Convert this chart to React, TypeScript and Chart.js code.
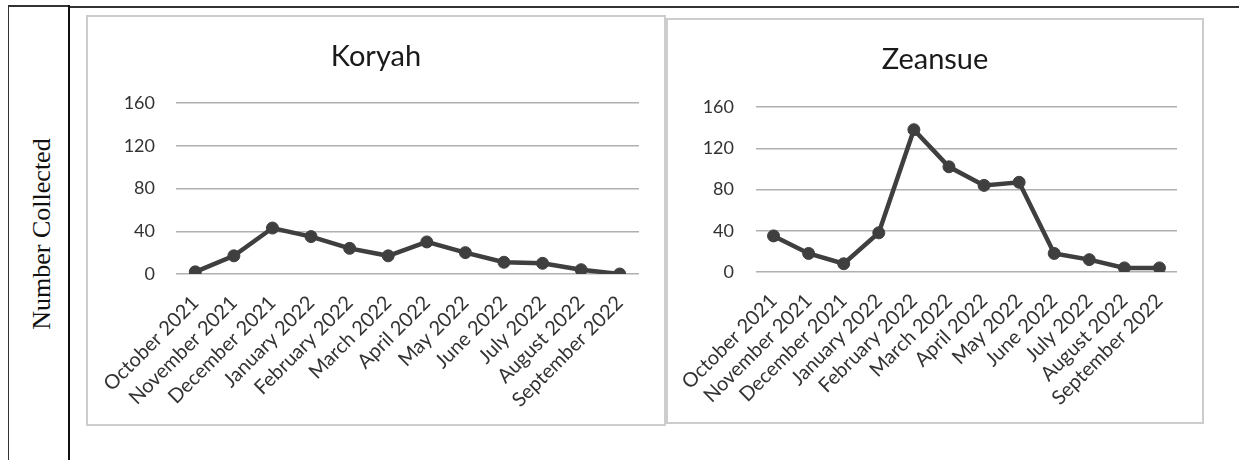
import React, { useEffect, useRef } from "react";
import { Chart, registerables } from "chart.js";

Chart.register(...registerables);

// Collection months shared by both sites
const months = [
  "October 2021",
  "November 2021",
  "December 2021",
  "January 2022",
  "February 2022",
  "March 2022",
  "April 2022",
  "May 2022",
  "June 2022",
  "July 2022",
  "August 2022",
  "September 2022",
];

// Monthly counts per site
const koryahCounts = [2, 17, 43, 35, 24, 17, 30, 20, 11, 10, 4, 0];
const zeansueCounts = [35, 18, 8, 38, 138, 102, 84, 87, 18, 12, 4, 4];

// Value axis
const yMin = 0;
const yMax = 160;
const yStep = 40;

const FONT = "Lato, 'Open Sans', sans-serif";
const INK = "#3f3f3f";

type PanelProps = {
  title: string;
  values: number[];
  left: number;
  top: number;
  width: number;
  height: number;
  titleTop: number;
  titleGap: number;
  xAxisHeight: number;
  yLabelPad: number;
};

function Panel(props: PanelProps) {
  const ref = useRef<HTMLCanvasElement | null>(null);
  const innerW = props.width - 4;
  const innerH = props.height - 4;

  useEffect(() => {
    if (!ref.current) return;
    const chart = new Chart(ref.current, {
      type: "line",
      data: {
        labels: months,
        datasets: [
          {
            data: props.values,
            borderColor: INK,
            backgroundColor: INK,
            borderWidth: 4.5,
            pointRadius: 6,
            pointBackgroundColor: INK,
            pointBorderColor: INK,
            pointBorderWidth: 1,
            tension: 0,
          },
        ],
      },
      options: {
        responsive: false,
        maintainAspectRatio: false,
        animation: false,
        layout: { padding: { left: 25, right: 25, top: props.titleTop, bottom: 0 } },
        plugins: {
          legend: { display: false },
          tooltip: { enabled: false },
          title: {
            display: true,
            text: props.title,
            color: "#1a1a1a",
            font: { family: FONT, size: 29, weight: "normal" },
            padding: { top: 0, bottom: props.titleGap },
          },
        },
        scales: {
          x: {
            offset: true,
            grid: { display: false },
            border: { display: false },
            ticks: {
              autoSkip: false,
              minRotation: 45,
              maxRotation: 45,
              padding: 9,
              color: "#333",
              font: { family: FONT, size: 20 },
            },
            afterFit: (scale: any) => {
              scale.height = props.xAxisHeight;
            },
          },
          y: {
            min: yMin,
            max: yMax,
            grid: { color: "#b0b0b0", lineWidth: 1.5, drawTicks: false },
            border: { display: false },
            ticks: {
              stepSize: yStep,
              padding: props.yLabelPad,
              color: "#333",
              font: { family: FONT, size: 18 },
            },
            afterFit: (scale: any) => {
              scale.width = 63;
            },
          },
        },
      },
    } as any);
    return () => chart.destroy();
  }, []);

  return (
    <div
      style={{
        position: "absolute",
        left: props.left,
        top: props.top,
        width: innerW,
        height: innerH,
        border: "2px solid #cdcdcd",
        background: "#fff",
      }}
    >
      <canvas
        ref={ref}
        width={innerW}
        height={innerH}
        style={{ display: "block", width: innerW, height: innerH }}
      />
    </div>
  );
}

export default function App() {
  return (
    <div
      style={{
        position: "absolute",
        left: 0,
        top: 0,
        width: 1239,
        height: 460,
        background: "#fff",
        overflow: "hidden",
      }}
    >
      {/* table frame */}
      <div style={{ position: "absolute", left: 8, top: 5, width: 1, height: 455, background: "#333" }} />
      <div style={{ position: "absolute", left: 8, top: 5, width: 62, height: 1.5, background: "#333" }} />
      <div style={{ position: "absolute", left: 68, top: 5, width: 2, height: 455, background: "#111" }} />
      <div style={{ position: "absolute", left: 70, top: 6, width: 1169, height: 1.5, background: "#333" }} />

      {/* axis caption */}
      <div
        style={{
          position: "absolute",
          left: 42,
          top: 234,
          transform: "translate(-50%, -50%) rotate(-90deg)",
          whiteSpace: "nowrap",
          fontFamily: "'Liberation Serif', 'Times New Roman', serif",
          fontSize: 26,
          color: "#111",
        }}
      >
        Number Collected
      </div>

      <Panel
        title="Koryah"
        values={koryahCounts}
        left={86}
        top={15}
        width={580}
        height={411}
        titleTop={22}
        titleGap={29.2}
        xAxisHeight={150}
        yLabelPad={21}
      />
      <Panel
        title="Zeansue"
        values={zeansueCounts}
        left={666}
        top={18}
        width={538}
        height={406}
        titleTop={22}
        titleGap={30.2}
        xAxisHeight={150}
        yLabelPad={22}
      />
    </div>
  );
}
